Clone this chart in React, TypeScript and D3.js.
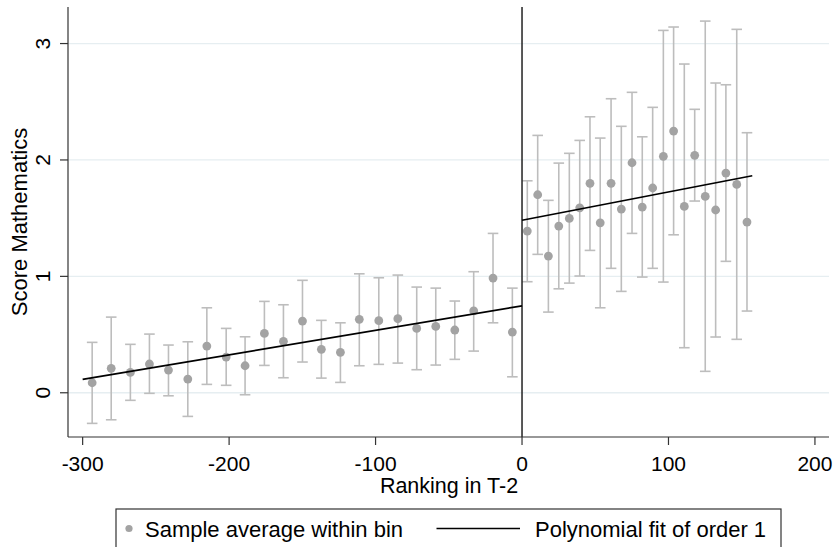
import React from "react";
import * as d3 from "d3";

const leftX = [-293.5, -280.5, -267.4, -254.4, -241.4, -228.2, -215.2, -202.0, -189.1, -175.9, -162.9, -149.9, -137.0, -124.0, -111.1, -97.8, -84.8, -71.9, -58.9, -45.9, -33.0, -19.8, -6.6];
const leftMean = [0.086, 0.210, 0.175, 0.247, 0.195, 0.118, 0.401, 0.307, 0.232, 0.510, 0.442, 0.616, 0.373, 0.347, 0.631, 0.619, 0.636, 0.553, 0.570, 0.539, 0.704, 0.985, 0.521];
const leftHi = [0.433, 0.650, 0.416, 0.504, 0.410, 0.438, 0.730, 0.553, 0.481, 0.785, 0.756, 0.966, 0.622, 0.601, 1.022, 0.988, 1.011, 0.908, 0.899, 0.788, 1.040, 1.369, 0.899];
const leftLo = [-0.263, -0.232, -0.065, -0.005, -0.026, -0.203, 0.072, 0.064, -0.017, 0.235, 0.129, 0.264, 0.126, 0.089, 0.232, 0.244, 0.255, 0.198, 0.238, 0.287, 0.358, 0.601, 0.137];

const rightX = [3.6, 10.7, 18.0, 25.1, 32.3, 39.4, 46.4, 53.4, 60.8, 67.8, 75.1, 82.1, 89.2, 96.5, 103.5, 110.8, 117.9, 125.1, 132.2, 139.2, 146.6, 153.6];
const rightMean = [1.389, 1.701, 1.174, 1.432, 1.498, 1.589, 1.799, 1.460, 1.799, 1.578, 1.976, 1.595, 1.759, 2.031, 2.248, 1.601, 2.040, 1.687, 1.570, 1.887, 1.790, 1.466];
const rightHi = [1.821, 2.211, 1.653, 1.973, 2.057, 2.168, 2.371, 2.188, 2.526, 2.289, 2.581, 2.199, 2.452, 3.113, 3.142, 2.824, 2.435, 3.193, 2.661, 2.646, 3.122, 2.234];
const rightLo = [0.954, 1.189, 0.693, 0.893, 0.942, 1.003, 1.223, 0.730, 1.069, 0.871, 1.369, 0.994, 1.069, 0.951, 1.357, 0.387, 1.647, 0.184, 0.479, 1.129, 0.459, 0.702];

const fitLeftX = [-300, 0];
const fitLeftY = [0.115, 0.747];
const fitRightX = [0, 157.2];
const fitRightY = [1.482, 1.864];

const xTicks = [-300, -200, -100, 0, 100, 200];
const yTicks = [0, 1, 2, 3];

const xTitle = "Ranking in T-2";
const yTitle = "Score Mathematics";
const legendDots = "Sample average within bin";
const legendLine = "Polynomial fit of order 1";

const W = 834;
const H = 547;
const L = 68;
const R = 829;
const T = 7;
const B = 437;
const FONT = "'Liberation Sans', Arial, sans-serif";

export default function App() {
  const x = d3.scaleLinear().domain([-310, 209.6]).range([L, R]);
  const y = d3.scaleLinear().domain([-0.38, 3.314]).range([B, T]);
  const line = d3
    .line<[number, number]>()
    .x((d) => x(d[0]))
    .y((d) => y(d[1]));

  const bins = [
    ...leftX.map((v, i) => ({ x: v, m: leftMean[i], lo: leftLo[i], hi: leftHi[i] })),
    ...rightX.map((v, i) => ({ x: v, m: rightMean[i], lo: rightLo[i], hi: rightHi[i] })),
  ];
  const cap = 5.3;

  return (
    <svg
      width={W}
      height={H}
      style={{ position: "absolute", left: 0, top: 0, background: "#fff" }}
      fontFamily={FONT}
    >
      <rect x={0} y={0} width={W} height={H} fill="#fff" />
      {yTicks.map((t) => (
        <line key={"g" + t} x1={L} x2={R} y1={y(t)} y2={y(t)} stroke="#e6eef1" strokeWidth={1.3} />
      ))}
      {bins.map((b, i) => (
        <g key={"e" + i} stroke="#bdbdbd" strokeWidth={1.6} fill="none">
          <line x1={x(b.x)} x2={x(b.x)} y1={y(b.lo)} y2={y(b.hi)} />
          <line x1={x(b.x) - cap} x2={x(b.x) + cap} y1={y(b.lo)} y2={y(b.lo)} />
          <line x1={x(b.x) - cap} x2={x(b.x) + cap} y1={y(b.hi)} y2={y(b.hi)} />
        </g>
      ))}
      {bins.map((b, i) => (
        <circle key={"c" + i} cx={x(b.x)} cy={y(b.m)} r={4.4} fill="#a3a3a3" />
      ))}
      <line x1={x(0)} x2={x(0)} y1={T} y2={B} stroke="#222" strokeWidth={1.5} />
      <path
        d={line(fitLeftX.map((v, i) => [v, fitLeftY[i]] as [number, number])) || ""}
        stroke="#000"
        strokeWidth={1.7}
        fill="none"
      />
      <path
        d={line(fitRightX.map((v, i) => [v, fitRightY[i]] as [number, number])) || ""}
        stroke="#000"
        strokeWidth={1.7}
        fill="none"
      />
      {/* axes */}
      <line x1={L} x2={L} y1={T} y2={B} stroke="#333" strokeWidth={1.2} />
      <line x1={L} x2={R} y1={B} y2={B} stroke="#333" strokeWidth={1.2} />
      {yTicks.map((t) => (
        <g key={"yt" + t}>
          <line x1={L - 8} x2={L} y1={y(t)} y2={y(t)} stroke="#333" strokeWidth={1.2} />
          <text
            transform={`translate(50,${y(t)}) rotate(-90)`}
            textAnchor="middle"
            fontSize={21}
            fill="#000"
          >
            {t}
          </text>
        </g>
      ))}
      {xTicks.map((t) => (
        <g key={"xt" + t}>
          <line x1={x(t)} x2={x(t)} y1={B} y2={B + 8} stroke="#333" strokeWidth={1.2} />
          <text x={x(t)} y={471} textAnchor="middle" fontSize={21} fill="#000">
            {t}
          </text>
        </g>
      ))}
      <text x={(L + R) / 2 + 0.5} y={493} textAnchor="middle" fontSize={21.5} fill="#000">
        {xTitle}
      </text>
      <text
        transform={`translate(27,${(T + B) / 2}) rotate(-90)`}
        textAnchor="middle"
        fontSize={22}
        fill="#000"
      >
        {yTitle}
      </text>
      {/* legend */}
      <rect x={116} y={509} width={665} height={50} fill="#fff" stroke="#333" strokeWidth={1.2} />
      <circle cx={129} cy={528.5} r={3.6} fill="#a3a3a3" />
      <text x={145} y={537} fontSize={22} fill="#000">
        {legendDots}
      </text>
      <line x1={436.5} x2={520} y1={528.5} y2={528.5} stroke="#000" strokeWidth={1.5} />
      <text x={535} y={537} fontSize={22} fill="#000">
        {legendLine}
      </text>
    </svg>
  );
}
